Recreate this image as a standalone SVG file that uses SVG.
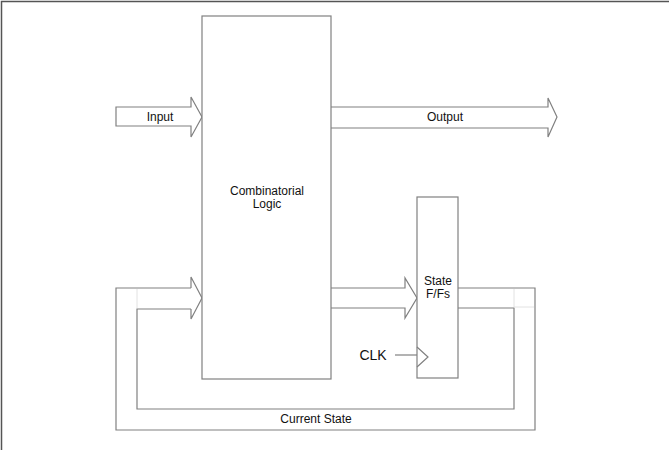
<svg xmlns="http://www.w3.org/2000/svg" width="669" height="450" viewBox="0 0 669 450">
<style>
.ln{fill:none;stroke:#808080;stroke-width:1.2}
.box{fill:#fff;stroke:#808080;stroke-width:1.2}
.faint{fill:none;stroke:#e2e2e2;stroke-width:1}
text{font-family:"Liberation Sans",Arial,sans-serif;font-size:12px;fill:#111;text-anchor:middle}
</style>
<rect width="669" height="450" fill="#fff"/>
<path d="M1.5,450 V1.5 H669" fill="none" stroke="#555" stroke-width="1.5"/>
<g id="connectors">
  <g id="input-arrow">
    <path class="ln" d="M191,107 H116 V126 H191 V137 L202,117 L191,97 Z"/>
  </g>
  <g id="output-arrow">
    <path class="ln" d="M331,107 H548 V98 L557,117 L548,137 V128 H331"/>
  </g>
  <g id="next-state-arrow">
    <path class="ln" d="M331,288 H405 V278 L417,298 L405,318 V308 H331"/>
  </g>
  <g id="current-state-loop">
    <path class="ln" d="M191,288 H116 V430 H535 V288 H458"/>
    <path class="ln" d="M191,309 H137 V409 H514 V308 H458"/>
    <path class="ln" d="M191,288 V277 L202,298 L191,319 V309"/>
    <path class="faint" d="M137,289 V308 M514,289 V307 H534"/>
  </g>
  <g id="clk-line">
    <path class="ln" d="M395,355 H417"/>
  </g>
</g>
<g id="combinatorial-logic">
  <rect class="box" x="202" y="16" width="129" height="363"/>
  <text x="267" y="195">Combinatorial</text>
  <text x="267" y="208">Logic</text>
</g>
<g id="state-ffs">
  <rect class="box" x="417" y="197" width="41" height="181"/>
  <path class="ln" d="M417,347 L428,357 L417,367"/>
  <text x="438" y="285">State</text>
  <text x="438" y="298">F/Fs</text>
</g>
<g id="labels">
  <text x="160" y="121">Input</text>
  <text x="445" y="121">Output</text>
  <text x="373" y="360" style="font-size:14px">CLK</text>
  <text x="316" y="423">Current State</text>
</g>
</svg>
